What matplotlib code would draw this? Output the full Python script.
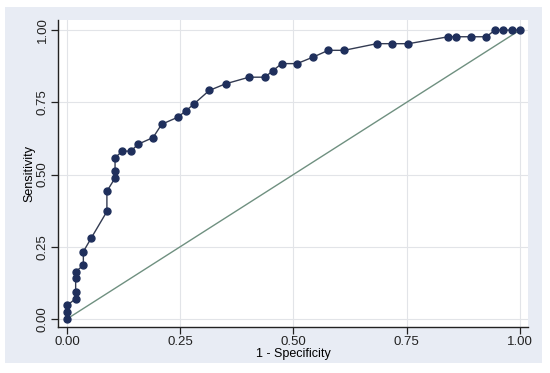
import matplotlib
matplotlib.use("Agg")
import matplotlib.pyplot as plt
from matplotlib.patches import Rectangle

# 1 - specificity / sensitivity points of the ROC curve
fpr = [0, 0, 0, 0.019, 0.019, 0.019, 0.019, 0.036, 0.036, 0.053,
       0.088, 0.088, 0.106, 0.106, 0.106, 0.122, 0.141, 0.157, 0.190, 0.209,
       0.244, 0.263, 0.280, 0.314, 0.350, 0.402, 0.437, 0.455, 0.474, 0.508,
       0.544, 0.577, 0.612, 0.684, 0.717, 0.754, 0.842, 0.858, 0.892, 0.926,
       0.945, 0.963, 0.982, 1.0]
tpr = [0, 0.023, 0.047, 0.070, 0.093, 0.140, 0.163, 0.186, 0.233, 0.279,
       0.372, 0.442, 0.488, 0.512, 0.558, 0.581, 0.581, 0.605, 0.628, 0.674,
       0.698, 0.721, 0.744, 0.791, 0.814, 0.837, 0.837, 0.860, 0.884, 0.884,
       0.907, 0.930, 0.930, 0.953, 0.953, 0.953, 0.977, 0.977, 0.977, 0.977,
       1.0, 1.0, 1.0, 1.0]
ticks = [0, 0.25, 0.5, 0.75, 1.0]
tick_labels = ["0.00", "0.25", "0.50", "0.75", "1.00"]

plt.rcParams['font.family'] = ['Liberation Sans', 'DejaVu Sans']

fig = plt.figure(figsize=(5.5, 3.73), dpi=100)
fig.patch.set_facecolor('white')
# light blue-gray graph region
fig.patches.append(Rectangle((5/550, 1-363/373), 537/550, 356/373,
                             transform=fig.transFigure, facecolor='#e8ecf4',
                             edgecolor='none', zorder=-10))

ax = fig.add_axes([58/550, 1-327/373, 470/550, 307/373])
ax.set_facecolor('white')

ax.plot([0, 1], [0, 1], color='#6f9080', linewidth=1.0, zorder=2)
ax.plot(fpr, tpr, color='#333b52', linewidth=1.0, marker='o',
        markersize=5, markerfacecolor='#1f2f5c', markeredgecolor='#1f2f5c',
        zorder=3)

ax.set_xlim(-0.02, 1.018)
ax.set_ylim(-0.028, 1.035)
ax.set_xticks(ticks)
ax.set_xticklabels(tick_labels)
ax.set_yticks(ticks)
ax.set_yticklabels(tick_labels, rotation=90, va='center')
ax.tick_params(direction='out', length=5, width=0.9, labelsize=9.5,
               colors='#222222', pad=1.5)
ax.grid(True, color='#e2e4e8', linewidth=0.8)
ax.set_axisbelow(True)

for side in ['top', 'right']:
    ax.spines[side].set_visible(False)
for side in ['left', 'bottom']:
    ax.spines[side].set_color('#222222')
    ax.spines[side].set_linewidth(1.0)

ax.set_xlabel("1 - Specificity", fontsize=9, labelpad=0)
ax.set_ylabel("Sensitivity", fontsize=9, labelpad=1)

fig.savefig("out.png", dpi=100)
